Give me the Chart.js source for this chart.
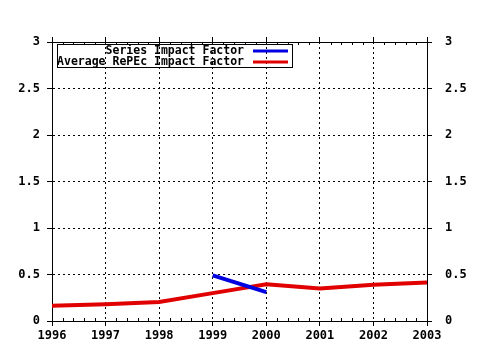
<!DOCTYPE html>
<html>
<head>
<meta charset="utf-8">
<script src="https://cdn.jsdelivr.net/npm/chart.js@4"></script>
<style>
  body { margin: 0; background: #fff; }
</style>
</head>
<body>
<canvas id="myChart" width="480" height="350"></canvas>
<script>
var anos = [1996, 1997, 1998, 1999, 2000, 2001, 2002, 2003];
var serieAnos = [1999, 2000];
var serieImpacto = [0.49, 0.31];
var mediaImpacto = [0.165, 0.18, 0.205, 0.30, 0.395, 0.35, 0.39, 0.415];
var yTicks = [0, 0.5, 1, 1.5, 2, 2.5, 3];

var fonte = { family: "'DejaVu Sans Mono', monospace", size: 12, weight: 'bold' };

function pontos(xs, ys) {
    var r = [];
    for (var i = 0; i < xs.length; i++) r.push({ x: xs[i], y: ys[i] });
    return r;
}

// legenda desenhada dentro do grafico
var legendaPlugin = {
    id: 'legendaCaixa',
    afterDraw: function (chart) {
        var c = chart.ctx;
        c.save();
        c.strokeStyle = '#000';
        c.lineWidth = 1;
        c.strokeRect(57.5, 44.5, 235, 23);
        c.font = "bold 11.5px 'DejaVu Sans Mono', monospace";
        c.fillStyle = '#000';
        c.textAlign = 'right';
        c.textBaseline = 'middle';
        chart.data.datasets.forEach(function (ds, i) {
            var y = 51 + i * 11;
            c.fillText(ds.label, 244, y);
            c.strokeStyle = ds.borderColor;
            c.lineWidth = 3;
            c.beginPath();
            c.moveTo(253, y);
            c.lineTo(288, y);
            c.stroke();
        });
        c.restore();
    }
};

// marcas menores no eixo x (topo e base)
var marcasMenores = {
    id: 'marcasMenores',
    afterDraw: function (chart) {
        var c = chart.ctx, sx = chart.scales.x, a = chart.chartArea;
        c.save();
        c.strokeStyle = '#000';
        c.lineWidth = 1;
        for (var k = 0; k < (anos.length - 1) * 5; k++) {
            if (k % 5 === 0) continue;
            var px = Math.round(sx.getPixelForValue(anos[0] + k / 5)) + 0.5;
            c.beginPath();
            c.moveTo(px, a.bottom);
            c.lineTo(px, a.bottom - 3);
            c.moveTo(px, a.top);
            c.lineTo(px, a.top + 3);
            c.stroke();
        }
        c.restore();
    }
};

function rotulo(v) { return String(v); }

var ctx = document.getElementById("myChart").getContext("2d");
var dados = {
    type: 'line',
    data: {
        datasets: [
            {
                label: "Series Impact Factor",
                data: pontos(serieAnos, serieImpacto),
                borderColor: '#0000e0',
                borderWidth: 4,
                pointRadius: 0,
                tension: 0
            },
            {
                label: "Average RePEc Impact Factor",
                data: pontos(anos, mediaImpacto),
                borderColor: '#e00000',
                borderWidth: 4,
                pointRadius: 0,
                tension: 0
            }
        ]
    },
    options: {
        responsive: false,
        animation: false,
        layout: { padding: 0 },
        plugins: {
            legend: { display: false },
            tooltip: { enabled: false }
        },
        scales: {
            x: {
                type: 'linear',
                position: 'bottom',
                min: anos[0],
                max: anos[anos.length - 1],
                afterBuildTicks: function (s) { s.ticks = anos.map(function (v) { return { value: v }; }); },
                afterFit: function (s) { s.height = 29; },
                ticks: { color: '#000', font: fonte, padding: 3, maxRotation: 0, callback: rotulo },
                grid: { color: '#000', tickLength: 5, tickColor: '#000' },
                border: { color: '#000', dash: [2, 3] }
            },
            x2: {
                type: 'linear',
                position: 'top',
                min: anos[0],
                max: anos[anos.length - 1],
                afterBuildTicks: function (s) { s.ticks = anos.map(function (v) { return { value: v }; }); },
                afterFit: function (s) { s.height = 42; },
                ticks: { display: false },
                grid: { drawOnChartArea: false, tickLength: 5, tickColor: '#000' },
                border: { color: '#000' }
            },
            y: {
                position: 'left',
                min: 0,
                max: 3,
                afterBuildTicks: function (s) { s.ticks = yTicks.map(function (v) { return { value: v }; }); },
                afterFit: function (s) { s.width = 52; },
                ticks: { color: '#000', font: fonte, padding: 7, callback: rotulo },
                grid: { color: '#000', tickLength: 5, tickColor: '#000' },
                border: { color: '#000', dash: [2, 3] }
            },
            y2: {
                position: 'right',
                min: 0,
                max: 3,
                afterBuildTicks: function (s) { s.ticks = yTicks.map(function (v) { return { value: v }; }); },
                afterFit: function (s) { s.width = 53; },
                ticks: { color: '#000', font: fonte, padding: 13, callback: rotulo },
                grid: { drawOnChartArea: false, tickLength: 5, tickColor: '#000' },
                border: { color: '#000' }
            }
        }
    },
    plugins: [legendaPlugin, marcasMenores]
};
var myLineChart = new Chart(ctx, dados);
</script>
</body>
</html>
